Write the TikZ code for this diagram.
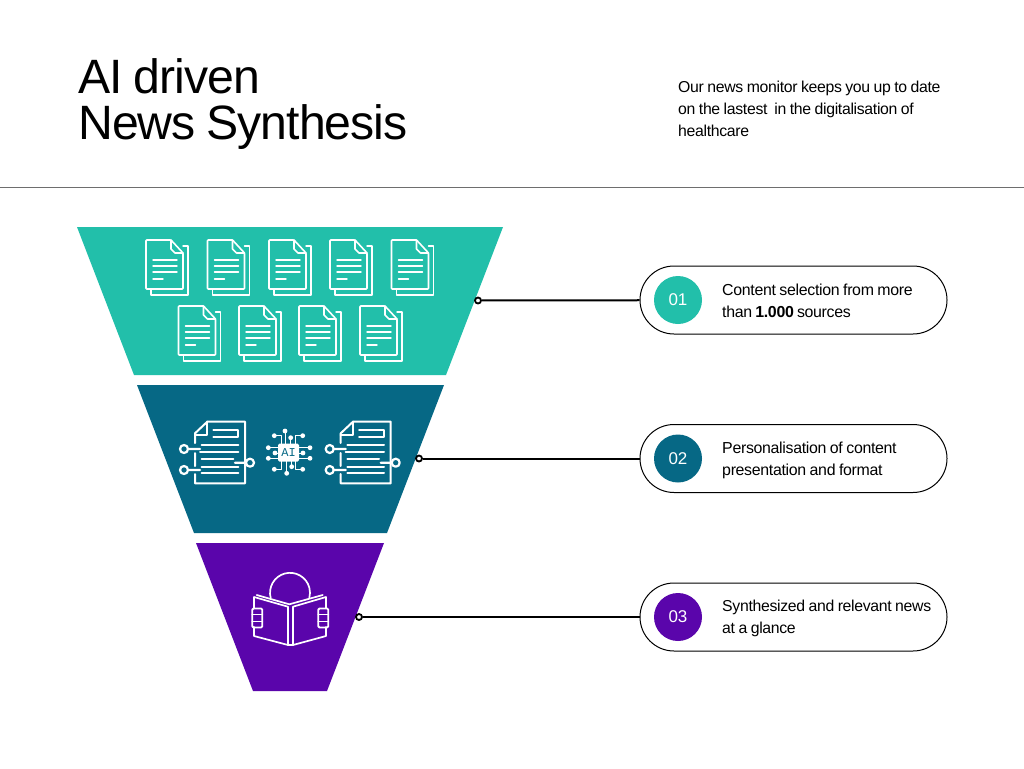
\documentclass[tikz,border=0pt]{standalone}
\usepackage{fontspec}
\setmainfont[LetterSpace=-2,WordSpace=0.85]{Liberation Sans}
\definecolor{teal1}{HTML}{22BFAA}
\definecolor{blue1}{HTML}{066885}
\definecolor{purple1}{HTML}{5A05AB}
\newcommand{\fs}[2]{\fontsize{#1}{#2}\selectfont}
\tikzset{
  x=1pt,y=-1pt,
  txt/.style={inner sep=0pt,anchor=base west,align=left,text=black},
  pill/.style={draw=black,line width=1pt,fill=white,rounded corners=34pt,minimum width=307pt,minimum height=68pt,inner sep=0pt},
  badge/.style={circle,minimum size=48pt,inner sep=0pt,text=white,font=\fs{17}{17}},
  ringdot/.style={circle,draw=black,fill=white,line width=1.8pt,minimum size=6pt,inner sep=0pt},
  link/.style={draw=black,line width=2pt},
  ico/.style={draw=white,line width=1.6pt,line join=round,line cap=round},
  docicon/.pic={
    \draw[ico,line width=1.5pt] (37,6)--(42,6)--(42,55)--(5,55)--(5,49);
    \draw[ico,fill=teal1,rounded corners=0.8pt] (0,0)--(25,0)--(37,13)--(37,49)--(0,49)--cycle;
    \draw[ico] (25,0)--(25,9)--(29,13)--(37,13);
    \draw[ico,line width=1.4pt] (7,20)--(31,20) (7,26)--(31,26) (7,32)--(31,32) (7,39)--(17,39);
  },
  circdoc/.pic={
    \draw[ico,line width=2pt] (25,23)--(25,13.3)--(37.3,1.7)--(75,1.7)--(75,63.3)--(25,63.3)--(25,54) (25,33)--(25,46);
    \draw[ico,line width=2pt] (25,15)--(37.3,15)--(37.3,1.7);
    \draw[ico,line width=2pt] (43.3,10)--(68.3,10)--(68.3,16.7)--(43.3,16.7);
    \draw[ico,line width=2pt] (31.7,25)--(68.3,25) (30,31.7)--(68.3,31.7) (31.7,39.3)--(63.3,39.3) (31.7,46.7)--(68.3,46.7) (31.7,53.3)--(68.3,53.3);
    \draw[ico,line width=2.2pt] (14,29) circle (4) (18,29)--(30,29) (14,50) circle (4) (18,50)--(30,50) (80,42.7) circle (4) (76,42.7)--(65,42.7);
  },
  bookhand/.pic={
    \draw[ico,line width=1.8pt,rounded corners=1.2pt] (-5,-9.5) rectangle (5,9.5);
    \draw[ico,line width=1.8pt] (-5,-3.5)--(5,-3.5) (-5,3.5)--(5,3.5);
  },
}
\begin{document}
\begin{tikzpicture}
\useasboundingbox (0,0) rectangle (1024,768);
\fill[white] (0,0) rectangle (1024,768);
\node[txt,font=\fs{48.2}{46}] (title) at (78,139.5) {AI driven\\News Synthesis};
\node[txt,font=\fs{15.8}{22}] (intro) at (678,136) {Our news monitor keeps you up to date\\on the lastest\ \ in the digitalisation of\\healthcare};
\draw[draw={rgb,255:red,110;green,110;blue,110},line width=1pt] (0,187)--(1024,187);
% funnel
\fill[teal1] (77,227)--(503,227)--(446,375)--(134,375)--cycle;
\fill[blue1] (137,385)--(444,385)--(387,533)--(194,533)--cycle;
\fill[purple1] (196,543)--(384,543)--(327,691)--(253,691)--cycle;
% documents
\foreach \px in {146,207.5,269,330,391.5} \pic at (\px,240) {docicon};
\foreach \px in {178.5,239,299,360} \pic at (\px,306) {docicon};
% circuit documents
\pic at (170,420) {circdoc};
\pic at (315.7,420) {circdoc};
% AI chip
\draw[ico,line width=1pt]
  (274.3,435.7)--(281,435.7)--(281,445) (285,431)--(285,445) (290.7,437.7)--(290.7,445) (302.7,435.7)--(295.5,435.7)--(295.5,445)
  (274.3,469.3)--(281,469.3)--(281,460) (286.7,473.3)--(286.7,460) (291.7,466.7)--(291.7,460) (302.7,469.3)--(295.5,469.3)--(295.5,460)
  (268.3,447.7)--(280,447.7) (268.3,458.3)--(280,458.3) (275,453)--(280,453)
  (310,447.7)--(298,447.7) (310,458.3)--(298,458.3) (303,453)--(298,453);
\foreach \dx/\dy in {274.3/435.7,285/431,290.7/437.7,302.7/435.7,274.3/469.3,286.7/473.3,291.7/466.7,302.7/469.3,268.3/447.7,268.3/458.3,275/453,310/447.7,310/458.3,303/453}
  \fill[white] (\dx,\dy) circle (2.4);
\node[fill=white,rounded corners=1.5pt,minimum width=21pt,minimum height=18pt,inner sep=0pt,text=blue1,font={\fontspec{Liberation Mono}\fs{12}{12}}] (chip) at (288.5,452.5) {AI};
% book
\draw[ico,line width=1.7pt] (270.7,598) arc[start angle=165,end angle=375,radius=20];
\draw[ico,line width=1.7pt] (256.7,595)--(289.3,604.3)--(322.7,595);
\draw[ico,line width=1.7pt] (254,608)--(254,597)--(288,606.7)--(288,645)--(254,636)--(254,627);
\draw[ico,line width=1.7pt] (326,608)--(326,597)--(293,606.7)--(293,645)--(326,636)--(326,627);
\draw[ico,line width=1.7pt] (288,645)--(293,645);
\pic at (257.3,618) {bookhand};
\pic at (323.3,618) {bookhand};
% pills
\node[pill] (p1) at (793.5,300) {};
\node[pill] (p2) at (793.5,458.5) {};
\node[pill] (p3) at (793.5,617) {};
\node[badge,fill=teal1] (b1) at (678,300) {01};
\node[badge,fill=blue1] (b2) at (678,458.5) {02};
\node[badge,fill=purple1] (b3) at (678,617) {03};
\node[txt,font=\fs{15.9}{22}] (t1) at (722,317) {Content selection from more\\than \textbf{1.000} sources};
\node[txt,font=\fs{15.9}{22}] (t2) at (722,475) {Personalisation of content\\presentation and format};
\node[txt,font=\fs{15.8}{22}] (t3) at (722,633) {Synthesized and relevant news\\at a glance};
% connectors
\node[ringdot] (d1) at (478,300.5) {};
\node[ringdot] (d2) at (419,458.5) {};
\node[ringdot] (d3) at (359,617) {};
\draw[link] (d1)--(p1);
\draw[link] (d2)--(p2);
\draw[link] (d3)--(p3);
\end{tikzpicture}
\end{document}
